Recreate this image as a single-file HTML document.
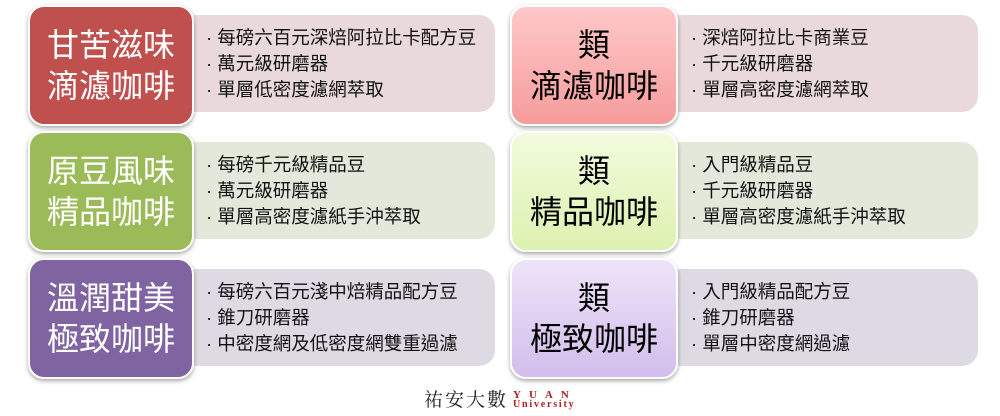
<!DOCTYPE html>
<html><head><meta charset="utf-8"><style>
body{margin:0;width:1000px;height:416px;background:#fff;position:relative;overflow:hidden;font-family:"Liberation Sans","Noto Sans CJK TC",sans-serif}
.d{position:absolute;border-radius:16px;box-sizing:border-box;padding-left:14px;display:flex;flex-direction:column;justify-content:center;font-size:18.5px;line-height:26px;color:#111}
.s{position:absolute;border-radius:16px;border:2px solid #fff;box-shadow:0 2px 4px rgba(0,0,0,.35);display:flex;align-items:center;justify-content:center;text-align:center;font-size:32px;line-height:41px;box-sizing:border-box}
.w{color:#fff}
</style></head><body>
<div class="d" style="left:180px;top:15px;width:315px;height:97px;background:#ead9da;padding-left:26px">
<div>· 每磅六百元深焙阿拉比卡配方豆</div><div>· 萬元級研磨器</div><div>· 單層低密度濾網萃取</div></div>
<div class="s w" style="left:28px;top:5px;width:166px;height:121px;background:#c0504d">甘苦滋味<br>滴濾咖啡</div>

<div class="d" style="left:180px;top:142px;width:315px;height:97px;background:#e3e9da;padding-left:26px">
<div>· 每磅千元級精品豆</div><div>· 萬元級研磨器</div><div>· 單層高密度濾紙手沖萃取</div></div>
<div class="s w" style="left:28px;top:131px;width:166px;height:121px;background:#9bbb59">原豆風味<br>精品咖啡</div>

<div class="d" style="left:180px;top:269px;width:315px;height:97px;background:#dedae4;padding-left:26px">
<div>· 每磅六百元淺中焙精品配方豆</div><div>· 錐刀研磨器</div><div>· 中密度網及低密度網雙重過濾</div></div>
<div class="s w" style="left:28px;top:258px;width:166px;height:121px;background:#8064a2">溫潤甜美<br>極致咖啡</div>

<div class="d" style="left:665px;top:15px;width:313px;height:97px;background:#ead9da;padding-left:26px">
<div>· 深焙阿拉比卡商業豆</div><div>· 千元級研磨器</div><div>· 單層高密度濾網萃取</div></div>
<div class="s" style="left:510px;top:5px;width:168px;height:121px;background:linear-gradient(#ffc8c8,#f59c9c)">類<br>滴濾咖啡</div>

<div class="d" style="left:665px;top:142px;width:313px;height:97px;background:#e3e9da;padding-left:26px">
<div>· 入門級精品豆</div><div>· 千元級研磨器</div><div>· 單層高密度濾紙手沖萃取</div></div>
<div class="s" style="left:510px;top:131px;width:168px;height:121px;background:linear-gradient(#f2fbdd,#dcf2b0)">類<br>精品咖啡</div>

<div class="d" style="left:665px;top:269px;width:313px;height:97px;background:#dedae4;padding-left:26px">
<div>· 入門級精品配方豆</div><div>· 錐刀研磨器</div><div>· 單層中密度網過濾</div></div>
<div class="s" style="left:510px;top:258px;width:168px;height:121px;background:linear-gradient(#eee4f8,#d2bdec)">類<br>極致咖啡</div>

<div style="position:absolute;left:424px;top:388px;font-family:'Noto Serif CJK SC',serif;font-size:19px;line-height:22px;color:#222;letter-spacing:2px">祐安大數</div>
<div style="position:absolute;left:513px;top:390px;color:#b02020;font-family:'Liberation Serif',serif;font-weight:bold;font-size:11px;line-height:10px;letter-spacing:8px">YUAN</div>
<div style="position:absolute;left:513px;top:400px;color:#b02020;font-family:'Liberation Serif',serif;font-weight:bold;font-size:10px;line-height:10px;letter-spacing:1.8px">University</div>
</body></html>
